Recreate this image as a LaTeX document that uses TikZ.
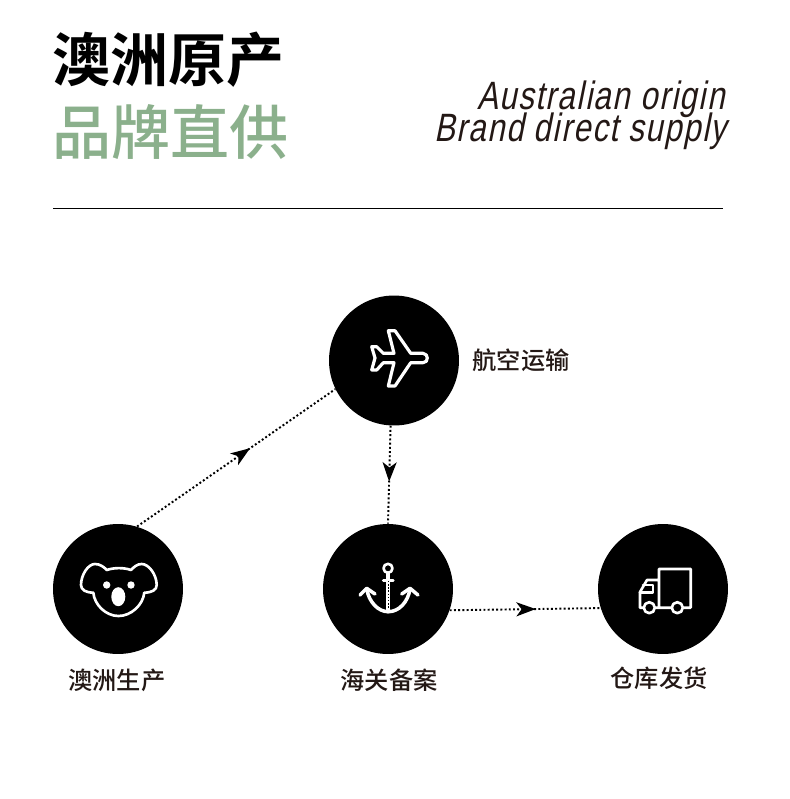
\documentclass[tikz,border=0pt]{standalone}
\usepackage{fontspec}
\usetikzlibrary{arrows.meta,decorations.markings}
\newfontfamily\cjk{Noto Sans CJK SC Medium}
\newfontfamily\cjkbold{Noto Sans CJK SC Bold}
\newfontfamily\latinslant[FakeSlant=0.2,FakeStretch=0.79,LetterSpace=4]{Liberation Sans}
\definecolor{leafgreen}{HTML}{8BB08C}
\definecolor{inkbrown}{HTML}{231815}
\tikzset{
  stage/.style={circle,fill=black,minimum size=2.6cm,inner sep=0pt},
  stagelabel/.style={text=inkbrown,font=\cjk\fontsize{13.8}{16}\selectfont},
  headline/.style={anchor=west,inner sep=0pt,font=\cjkbold\fontsize{33}{38}\selectfont},
  subline/.style={anchor=east,inner sep=0pt,text=inkbrown,font=\latinslant\fontsize{22.5}{26}\selectfont},
  icon/.style={draw=white,line width=1.5pt,line join=round,line cap=round},
  flow/.style={line width=1.1pt,dash pattern=on 1.1pt off 1.3pt,
    decoration={markings,mark=at position 0.57 with {\arrow{Stealth[length=11pt,width=8pt,inset=3pt]}}},
    postaction={decorate}}
}
\begin{document}
\begin{tikzpicture}[x=0.02cm,y=-0.02cm]
\useasboundingbox (0,0) rectangle (790,799);

\node[headline] (titleone) at (52,60) {澳洲原产};
\node[headline,text=leafgreen,font=\cjk\fontsize{33.6}{38}\selectfont] (titletwo) at (52,132) {品牌直供};
\node[subline] (subone) at (725,99) {Australian origin};
\node[subline] (subtwo) at (727,131) {Brand direct supply};

\coordinate (ruleleft) at (53,208);
\coordinate (ruleright) at (723,208);
\draw[line width=0.45pt] (ruleleft) -- (ruleright);

\node[stage] (plane) at (394,360.5) {};
\node[stage] (koala) at (118,589) {};
\node[stage] (anchorstage) at (388,589) {};
\node[stage] (truck) at (663,589) {};

\node[stagelabel] (planelabel) at (521,360) {航空运输};
\node[stagelabel] (koalalabel) at (117,680) {澳洲生产};
\node[stagelabel] (anchorlabel) at (389,680) {海关备案};
\node[stagelabel] (trucklabel) at (659,678) {仓库发货};

\draw[flow] (koala.73) -- (plane.206);
\draw[flow] (plane.267) -- (anchorstage.north);
\draw[flow] (anchorstage.-19) -- (truck.197);

% plane
\begin{scope}[shift={(391,361)}]
\draw[icon,line width=1.8pt] (-19.3,-14.3) -- (-14.3,-14.3) -- (-7.7,-7.7) -- (3,-7.7) -- (-2.7,-30.3) -- (4,-30.3)
  -- (19.7,-7.7) -- (32,-7.7) .. controls (35,-7.7) and (36.3,-5) .. (36.3,-3)
  .. controls (36.3,-0.5) and (35,1.7) .. (32,1.7) -- (19.7,1.7) -- (4,25) -- (-2.7,25)
  -- (3,1.7) -- (-7.7,1.7) -- (-14.3,9) -- (-19.3,9) -- (-16,-3) -- cycle;
\end{scope}

% koala
\begin{scope}[shift={(koala.center)}]
\draw[icon] (-24.7,3.7) .. controls (-32,3.5) and (-37,1) .. (-37,-4)
  .. controls (-37,-14) and (-30,-25) .. (-23,-25) .. controls (-18,-25) and (-14,-22) .. (-11.3,-19)
  .. controls (-4,-21.5) and (6,-21.5) .. (13,-19) .. controls (16,-22) and (19,-25) .. (23.7,-25)
  .. controls (31,-25) and (38.7,-14) .. (38.7,-4) .. controls (38.7,1) and (34,3.5) .. (26.3,3.7)
  .. controls (25,16) and (13,27) .. (0.5,27) .. controls (-12,27) and (-23.5,16) .. (-24.7,3.7) -- cycle;
\fill[white] (-11.3,-4) circle (3.7);
\fill[white] (13,-4) circle (3.7);
\fill[white] (0.3,7.7) ellipse (7 and 9.5);
\end{scope}

% anchor
\begin{scope}[shift={(anchorstage.center)}]
\draw[icon] (0,-20.7) circle (4.5);
\draw[icon,line width=2pt] (0,-16) -- (0,22.7);
\draw[icon] (-4.7,-8.3) -- (5.3,-8.3);
\draw[icon,line width=2pt] (-21.3,0) .. controls (-19,13) and (-10,22.7) .. (0.3,22.7) .. controls (11,22.7) and (20,13) .. (22,0);
\draw[icon,line width=2pt] (-28,6) -- (-21.3,-0.7) -- (-13,5);
\draw[icon,line width=2pt] (13.7,5) -- (22,-0.7) -- (30,6);
\draw[black,line width=0.5pt,dash pattern=on 0.8pt off 1pt] (0,-8) -- (0,20);
\end{scope}

% truck
\begin{scope}[shift={(truck.center)}]
\draw[icon] (-4,18.7) -- (-4,-20) -- (27.7,-20) -- (27.7,18.7) -- (-23,18.7) -- (-23,3) -- (-16,-9) -- (-4,-9);
\draw[icon] (-20,-4) -- (-10,-4) -- (-10,3.7) -- (-23,3.7);
\draw[icon,fill=black] (-13.7,18.7) circle (5.5);
\draw[icon,fill=black] (14.3,18.7) circle (5.5);
\end{scope}
\end{tikzpicture}
\end{document}
